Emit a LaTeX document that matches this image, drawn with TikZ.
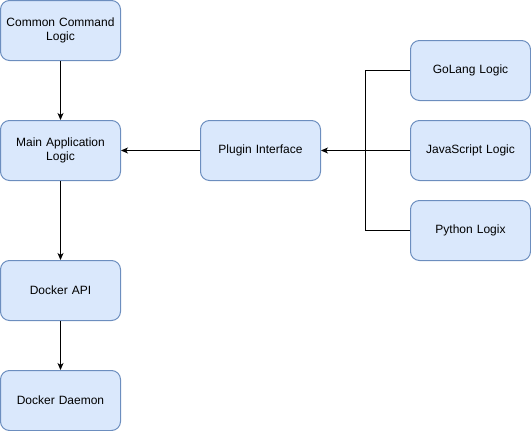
\documentclass[tikz,border=0pt]{standalone}
\usepackage{fontspec}
\setmainfont{Liberation Sans}
\usetikzlibrary{arrows.meta}
\definecolor{boxfill}{HTML}{DAE8FC}
\definecolor{boxline}{HTML}{6C8EBF}
\begin{document}
\begin{tikzpicture}[x=1pt,y=-1pt,
  box/.style={draw=boxline, fill=boxfill, line width=1pt, rounded corners=9pt,
    minimum width=120pt, minimum height=60pt, inner sep=2pt, align=center,
    font=\fontsize{12}{14}\selectfont, text width=110pt},
  conn/.style={line width=1pt, draw=black},
  arr/.style={conn, -{Stealth[length=7pt,width=6pt,inset=2pt]}}]
\useasboundingbox (0,0) rectangle (531,431);
\node[box] (common) at (60.5,30.5) {Common Command\\Logic};
\node[box] (main) at (60.5,150.5) {Main Application\\Logic};
\node[box] (api) at (60.5,290.5) {Docker API};
\node[box] (daemon) at (60.5,400.5) {Docker Daemon};
\node[box] (plugin) at (260.5,150.5) {Plugin Interface};
\node[box] (go) at (470.5,70.5) {GoLang Logic};
\node[box] (js) at (470.5,150.5) {JavaScript Logic};
\node[box] (py) at (470.5,230.5) {Python Logix};
\coordinate (mx) at (365.5,150.5);
\draw[arr] (common) -- (main);
\draw[arr] (main) -- (api);
\draw[arr] (api) -- (daemon);
\draw[arr] (plugin) -- (main);
\draw[arr] (js) -- (plugin);
\draw[conn] (go.west) -| (mx);
\draw[conn] (py.west) -| (mx);
\end{tikzpicture}
\end{document}
